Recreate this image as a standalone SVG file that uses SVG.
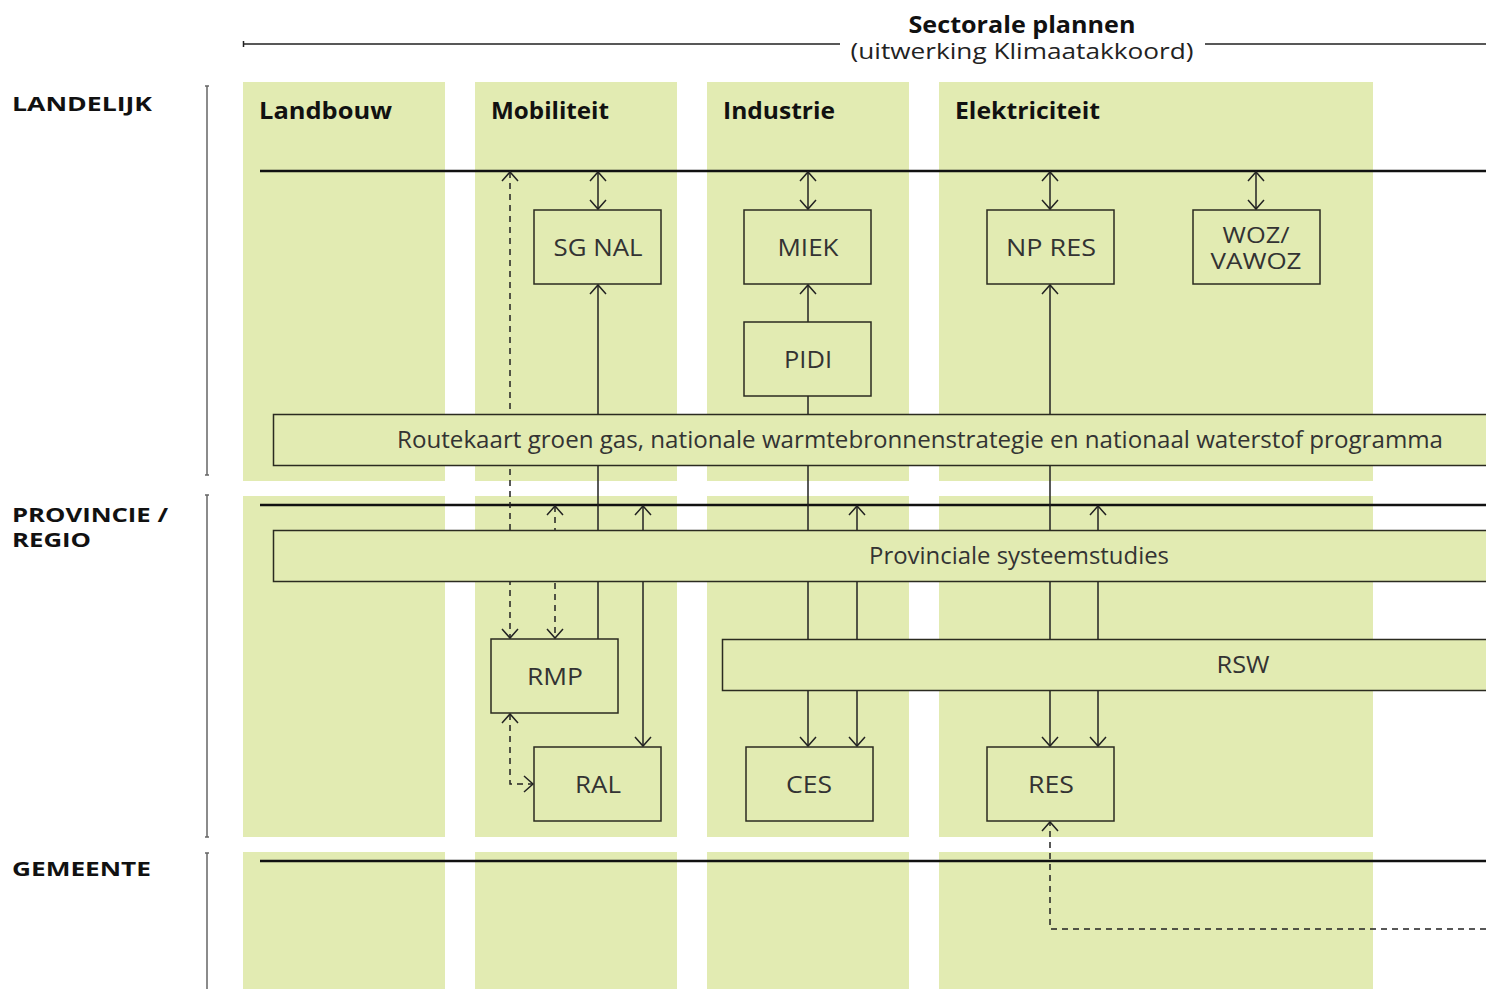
<svg xmlns="http://www.w3.org/2000/svg" width="1486" height="989" viewBox="0 0 1486 989">
<style>
.bg{fill:#e2ebb2}
.box{fill:#e2ebb2;stroke:#2b2b20;stroke-width:1.5}
.t{font-family:"Open Sans","Liberation Sans",sans-serif;font-size:23px;fill:#333;text-anchor:middle}
.s{font-size:21px}
.h{font-family:"Open Sans","Liberation Sans",sans-serif;font-size:23px;font-weight:700;fill:#111}
.lvl{font-family:"Open Sans","Liberation Sans",sans-serif;font-size:20px;font-weight:700;fill:#111}
.thick{stroke:#111;stroke-width:2.5;fill:none}
.c{stroke:#222;stroke-width:1.5;fill:none}
.d{stroke:#222;stroke-width:1.5;fill:none;stroke-dasharray:6 5}
.br{stroke:#666;stroke-width:1.5;fill:none}
</style>
<defs>
<marker id="a" markerUnits="userSpaceOnUse" markerWidth="14" markerHeight="20" refX="0" refY="0" viewBox="-12 -10 14 20" orient="auto-start-reverse">
<path d="M-9,-8 L0,0 L-9,8" fill="none" stroke="#222" stroke-width="1.5"/>
</marker>
</defs>
<rect width="1486" height="989" fill="#fff"/>
<g id="columns">
<rect class="bg" x="243" y="82" width="202" height="399"/>
<rect class="bg" x="475" y="82" width="202" height="399"/>
<rect class="bg" x="707" y="82" width="202" height="399"/>
<rect class="bg" x="939" y="82" width="434" height="399"/>
<rect class="bg" x="243" y="496" width="202" height="341"/>
<rect class="bg" x="475" y="496" width="202" height="341"/>
<rect class="bg" x="707" y="496" width="202" height="341"/>
<rect class="bg" x="939" y="496" width="434" height="341"/>
<rect class="bg" x="243" y="852" width="202" height="137"/>
<rect class="bg" x="475" y="852" width="202" height="137"/>
<rect class="bg" x="707" y="852" width="202" height="137"/>
<rect class="bg" x="939" y="852" width="434" height="137"/>
</g>
<g id="title">
<path class="c" d="M243,44 H840 M1205,44 H1486 M243.5,41 V47"/>
<text class="h s" x="1022" y="33" text-anchor="middle" textLength="227" lengthAdjust="spacingAndGlyphs">Sectorale plannen</text>
<text class="t s" x="1022" y="59" style="fill:#222" textLength="343" lengthAdjust="spacingAndGlyphs">(uitwerking Klimaatakkoord)</text>
</g>
<g id="levels">
<text class="lvl" x="12" y="111" textLength="140" lengthAdjust="spacingAndGlyphs">LANDELIJK</text>
<text class="lvl" x="12" y="522" textLength="156" lengthAdjust="spacingAndGlyphs">PROVINCIE /</text>
<text class="lvl" x="12" y="547" textLength="79" lengthAdjust="spacingAndGlyphs">REGIO</text>
<text class="lvl" x="12" y="876" textLength="139" lengthAdjust="spacingAndGlyphs">GEMEENTE</text>
<path class="br" d="M207,86 V475 M205,86 H209 M205,475 H209 M207,495 V837 M205,495 H209 M205,837 H209 M207,853 V989 M205,853 H209"/>
</g>
<g id="headings">
<text class="h" x="259" y="119" textLength="133" lengthAdjust="spacingAndGlyphs">Landbouw</text>
<text class="h" x="491" y="119" textLength="118" lengthAdjust="spacingAndGlyphs">Mobiliteit</text>
<text class="h" x="723" y="119" textLength="112" lengthAdjust="spacingAndGlyphs">Industrie</text>
<text class="h" x="955" y="119" textLength="145" lengthAdjust="spacingAndGlyphs">Elektriciteit</text>
</g>
<g id="levelLines">
<path class="thick" d="M260,171 H1486 M260,505 H1486 M260,861 H1486"/>
</g>
<g id="connectors">
<path class="c" d="M598,172 V209" marker-start="url(#a)" marker-end="url(#a)"/>
<path class="c" d="M808,172 V209" marker-start="url(#a)" marker-end="url(#a)"/>
<path class="c" d="M1050,172 V209" marker-start="url(#a)" marker-end="url(#a)"/>
<path class="c" d="M1256,172 V209" marker-start="url(#a)" marker-end="url(#a)"/>
<path class="c" d="M598,639 V285" marker-end="url(#a)"/>
<path class="c" d="M643,506 V746" marker-start="url(#a)" marker-end="url(#a)"/>
<path class="d" d="M510,172 V638" marker-start="url(#a)" marker-end="url(#a)"/>
<path class="d" d="M555,506 V638" marker-start="url(#a)" marker-end="url(#a)"/>
<path class="d" d="M510,714 V784 H533" marker-start="url(#a)" marker-end="url(#a)"/>
<path class="c" d="M808,322 V285" marker-end="url(#a)"/>
<path class="c" d="M808,396 V746" marker-end="url(#a)"/>
<path class="c" d="M857,506 V746" marker-start="url(#a)" marker-end="url(#a)"/>
<path class="c" d="M1050,285 V746" marker-start="url(#a)" marker-end="url(#a)"/>
<path class="c" d="M1098,506 V746" marker-start="url(#a)" marker-end="url(#a)"/>
<path class="d" d="M1486,929 H1050 V822" marker-end="url(#a)"/>
</g>
<g id="routekaart">
<rect class="box" x="273.5" y="414.5" width="1220" height="51"/>
<text class="t" x="920" y="448" textLength="1046" lengthAdjust="spacingAndGlyphs">Routekaart groen gas, nationale warmtebronnenstrategie en nationaal waterstof programma</text>
</g>
<g id="provinciale">
<rect class="box" x="273.5" y="530.5" width="1220" height="51"/>
<text class="t" x="1019" y="564" textLength="300" lengthAdjust="spacingAndGlyphs">Provinciale systeemstudies</text>
</g>
<g id="rsw">
<rect class="box" x="722.5" y="639.5" width="780" height="51"/>
<text class="t" x="1243" y="673" textLength="53" lengthAdjust="spacingAndGlyphs">RSW</text>
</g>
<g id="sgnal">
<rect class="box" x="534" y="210" width="127" height="74"/>
<text class="t" x="598" y="256" textLength="89" lengthAdjust="spacingAndGlyphs">SG NAL</text>
</g>
<g id="miek">
<rect class="box" x="744" y="210" width="127" height="74"/>
<text class="t" x="808" y="256" textLength="61" lengthAdjust="spacingAndGlyphs">MIEK</text>
</g>
<g id="pidi">
<rect class="box" x="744" y="322" width="127" height="74"/>
<text class="t" x="808" y="368" textLength="48" lengthAdjust="spacingAndGlyphs">PIDI</text>
</g>
<g id="npres">
<rect class="box" x="987" y="210" width="127" height="74"/>
<text class="t" x="1051" y="256" textLength="90" lengthAdjust="spacingAndGlyphs">NP RES</text>
</g>
<g id="woz">
<rect class="box" x="1193" y="210" width="127" height="74"/>
<text class="t s" x="1256" y="243" textLength="67" lengthAdjust="spacingAndGlyphs">WOZ/</text>
<text class="t s" x="1256" y="269" textLength="91" lengthAdjust="spacingAndGlyphs">VAWOZ</text>
</g>
<g id="rmp">
<rect class="box" x="491" y="639" width="127" height="74"/>
<text class="t" x="555" y="685" textLength="56" lengthAdjust="spacingAndGlyphs">RMP</text>
</g>
<g id="ral">
<rect class="box" x="534" y="747" width="127" height="74"/>
<text class="t" x="598" y="793" textLength="46" lengthAdjust="spacingAndGlyphs">RAL</text>
</g>
<g id="ces">
<rect class="box" x="746" y="747" width="127" height="74"/>
<text class="t" x="809" y="793" textLength="46" lengthAdjust="spacingAndGlyphs">CES</text>
</g>
<g id="res">
<rect class="box" x="987" y="747" width="127" height="74"/>
<text class="t" x="1051" y="793" textLength="46" lengthAdjust="spacingAndGlyphs">RES</text>
</g>
</svg>
